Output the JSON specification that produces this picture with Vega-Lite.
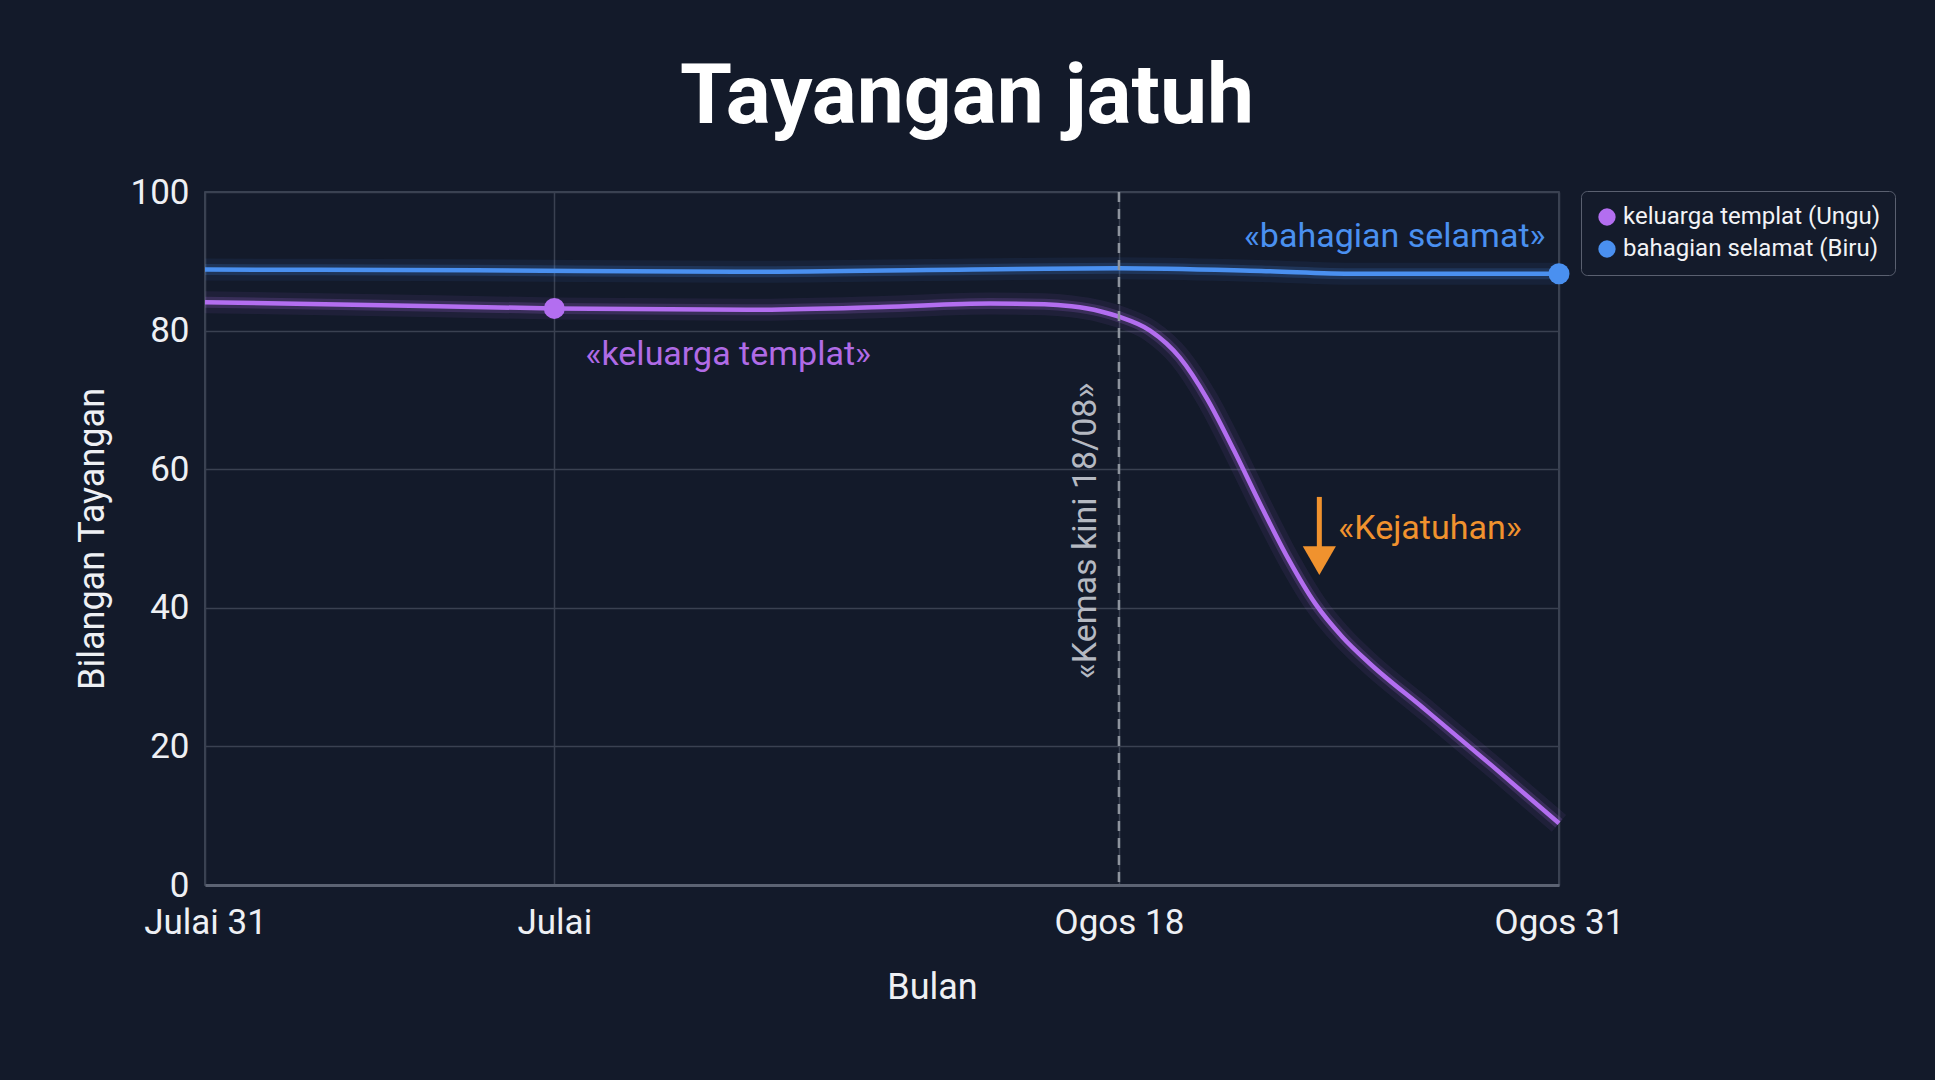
{
  "$schema": "https://vega.github.io/schema/vega-lite/v6.json",
  "width": 1354,
  "height": 693,
  "autosize": {"type": "none"},
  "padding": {"left": 205, "top": 192, "right": 376, "bottom": 195},
  "background": "#131a2a",
  "title": {
    "text": "Tayangan jatuh",
    "anchor": "middle",
    "dx": 85,
    "offset": 34,
    "fontSize": 84,
    "fontWeight": "bold",
    "font": "Roboto",
    "color": "#ffffff"
  },
  "config": {
    "font": "Roboto",
    "view": {"stroke": "#4a5162", "strokeWidth": 1.5},
    "axis": {
      "gridColor": "#3a4151",
      "gridWidth": 1.5,
      "ticks": false,
      "labelColor": "#eef0f4",
      "titleColor": "#eef0f4",
      "labelFont": "Roboto",
      "titleFont": "Roboto",
      "titleFontWeight": "normal"
    }
  },
  "data": {
    "values": [
      {"x": 0, "v": 84.1, "siri": "keluarga templat (Ungu)", "titik": false},
      {"x": 12, "v": 83.7, "siri": "keluarga templat (Ungu)", "titik": false},
      {"x": 25.8, "v": 83.2, "siri": "keluarga templat (Ungu)", "titik": true},
      {"x": 40, "v": 83.0, "siri": "keluarga templat (Ungu)", "titik": false},
      {"x": 50, "v": 83.4, "siri": "keluarga templat (Ungu)", "titik": false},
      {"x": 58, "v": 83.9, "siri": "keluarga templat (Ungu)", "titik": false},
      {"x": 62, "v": 83.8, "siri": "keluarga templat (Ungu)", "titik": false},
      {"x": 64, "v": 83.5, "siri": "keluarga templat (Ungu)", "titik": false},
      {"x": 66.1, "v": 82.8, "siri": "keluarga templat (Ungu)", "titik": false},
      {"x": 67.5, "v": 82.0, "siri": "keluarga templat (Ungu)", "titik": false},
      {"x": 69.8, "v": 80.0, "siri": "keluarga templat (Ungu)", "titik": false},
      {"x": 72, "v": 76.1, "siri": "keluarga templat (Ungu)", "titik": false},
      {"x": 74, "v": 70.2, "siri": "keluarga templat (Ungu)", "titik": false},
      {"x": 76, "v": 62.7, "siri": "keluarga templat (Ungu)", "titik": false},
      {"x": 78, "v": 54.7, "siri": "keluarga templat (Ungu)", "titik": false},
      {"x": 80, "v": 47.1, "siri": "keluarga templat (Ungu)", "titik": false},
      {"x": 82, "v": 40.6, "siri": "keluarga templat (Ungu)", "titik": false},
      {"x": 84, "v": 35.8, "siri": "keluarga templat (Ungu)", "titik": false},
      {"x": 86, "v": 32.0, "siri": "keluarga templat (Ungu)", "titik": false},
      {"x": 90, "v": 25.5, "siri": "keluarga templat (Ungu)", "titik": false},
      {"x": 95, "v": 17.3, "siri": "keluarga templat (Ungu)", "titik": false},
      {"x": 100, "v": 8.9, "siri": "keluarga templat (Ungu)", "titik": false},
      {"x": 0, "v": 88.8, "siri": "bahagian selamat (Biru)", "titik": false},
      {"x": 20, "v": 88.7, "siri": "bahagian selamat (Biru)", "titik": false},
      {"x": 40, "v": 88.5, "siri": "bahagian selamat (Biru)", "titik": false},
      {"x": 60, "v": 88.9, "siri": "bahagian selamat (Biru)", "titik": false},
      {"x": 67.5, "v": 89.0, "siri": "bahagian selamat (Biru)", "titik": false},
      {"x": 78, "v": 88.6, "siri": "bahagian selamat (Biru)", "titik": false},
      {"x": 85, "v": 88.2, "siri": "bahagian selamat (Biru)", "titik": false},
      {"x": 100, "v": 88.2, "siri": "bahagian selamat (Biru)", "titik": true}
    ]
  },
  "encoding": {
    "x": {
      "field": "x",
      "type": "quantitative",
      "scale": {"domain": [0, 100], "nice": false, "zero": false},
      "axis": {
        "values": [0, 25.8, 67.5, 100],
        "labelExpr": "datum.value == 0 ? 'Julai 31' : datum.value == 25.8 ? 'Julai' : datum.value == 67.5 ? 'Ogos 18' : 'Ogos 31'",
        "labelFontSize": 35,
        "labelPadding": 20,
        "labelFlush": false,
        "domainColor": "#5c6373",
        "domainWidth": 3,
        "title": "Bulan",
        "titleFontSize": 36,
        "titleX": 727,
        "titleY": 102,
        "titleBaseline": "middle"
      }
    },
    "y": {
      "field": "v",
      "type": "quantitative",
      "scale": {"domain": [0, 100], "nice": false},
      "axis": {
        "values": [0, 20, 40, 60, 80, 100],
        "labelFontSize": 35,
        "labelPadding": 16,
        "domain": false,
        "title": "Bilangan Tayangan",
        "titleFontSize": 36,
        "titlePadding": 18
      }
    },
    "detail": {"field": "siri", "type": "nominal"}
  },
  "layer": [
    {
      "mark": {"type": "line", "interpolate": "monotone", "strokeWidth": 22, "opacity": 0.08},
      "encoding": {
        "stroke": {"condition": {"test": "datum.siri == 'keluarga templat (Ungu)'", "value": "#b36ef0"}, "value": "#4a90f0"}
      }
    },
    {
      "mark": {"type": "line", "interpolate": "monotone", "strokeWidth": 11, "opacity": 0.18},
      "encoding": {
        "stroke": {"condition": {"test": "datum.siri == 'keluarga templat (Ungu)'", "value": "#b36ef0"}, "value": "#4a90f0"}
      }
    },
    {
      "mark": {"type": "line", "interpolate": "monotone", "strokeWidth": 4.5},
      "encoding": {
        "stroke": {"condition": {"test": "datum.siri == 'keluarga templat (Ungu)'", "value": "#b36ef0"}, "value": "#4a90f0"}
      }
    },
    {
      "mark": {"type": "rule", "strokeDash": [10, 7], "strokeWidth": 2.5, "color": "#8e949e"},
      "data": {"values": [{"x": 67.5}]},
      "encoding": {"x": {"field": "x", "type": "quantitative"}, "y": null, "detail": null}
    },
    {
      "transform": [{"filter": "datum.titik"}],
      "mark": {"type": "circle", "size": 440, "opacity": 1},
      "encoding": {
        "color": {
          "field": "siri",
          "type": "nominal",
          "scale": {"domain": ["keluarga templat (Ungu)", "bahagian selamat (Biru)"], "range": ["#b36ef0", "#4a90f0"]},
          "legend": {
            "title": null,
            "orient": "none",
            "legendX": 1376,
            "legendY": -1,
            "symbolType": "circle",
            "symbolSize": 300,
            "symbolOpacity": 1,
            "labelFontSize": 24,
            "labelColor": "#f2f3f6",
            "labelLimit": 400,
            "rowPadding": 8,
            "padding": 14,
            "strokeColor": "#5a6070",
            "fillColor": "#141b2b",
            "cornerRadius": 6
          }
        }
      }
    },
    {
      "data": {"values": [{"x": 28.1, "v": 76.5, "teks": "«keluarga templat»"}]},
      "mark": {"type": "text", "align": "left", "baseline": "middle", "fontSize": 34, "color": "#b06be6"},
      "encoding": {"text": {"field": "teks"}, "detail": null}
    },
    {
      "data": {"values": [{"x": 99, "v": 93.5, "teks": "«bahagian selamat»"}]},
      "mark": {"type": "text", "align": "right", "baseline": "middle", "fontSize": 34, "color": "#4a90f0"},
      "encoding": {"text": {"field": "teks"}, "detail": null}
    },
    {
      "data": {"values": [{"x": 83.7, "v": 51.4, "teks": "«Kejatuhan»"}]},
      "mark": {"type": "text", "align": "left", "baseline": "middle", "fontSize": 34, "color": "#f0922e"},
      "encoding": {"text": {"field": "teks"}, "detail": null}
    },
    {
      "data": {"values": [{"x": 65.1, "v": 51.1, "teks": "«Kemas kini 18/08»"}]},
      "mark": {"type": "text", "align": "center", "baseline": "middle", "angle": 270, "fontSize": 34, "color": "#b5b9c2"},
      "encoding": {"text": {"field": "teks"}, "detail": null}
    },
    {
      "data": {"values": [{"x": 82.3, "v": 56.0, "v2": 48.5}]},
      "mark": {"type": "rule", "strokeWidth": 5, "color": "#f0922e"},
      "encoding": {"y2": {"field": "v2"}, "detail": null}
    },
    {
      "data": {"values": [{"x": 82.3, "v": 46.8}]},
      "mark": {"type": "point", "shape": "triangle-down", "filled": true, "size": 1100, "color": "#f0922e", "opacity": 1},
      "encoding": {"detail": null}
    }
  ]
}
